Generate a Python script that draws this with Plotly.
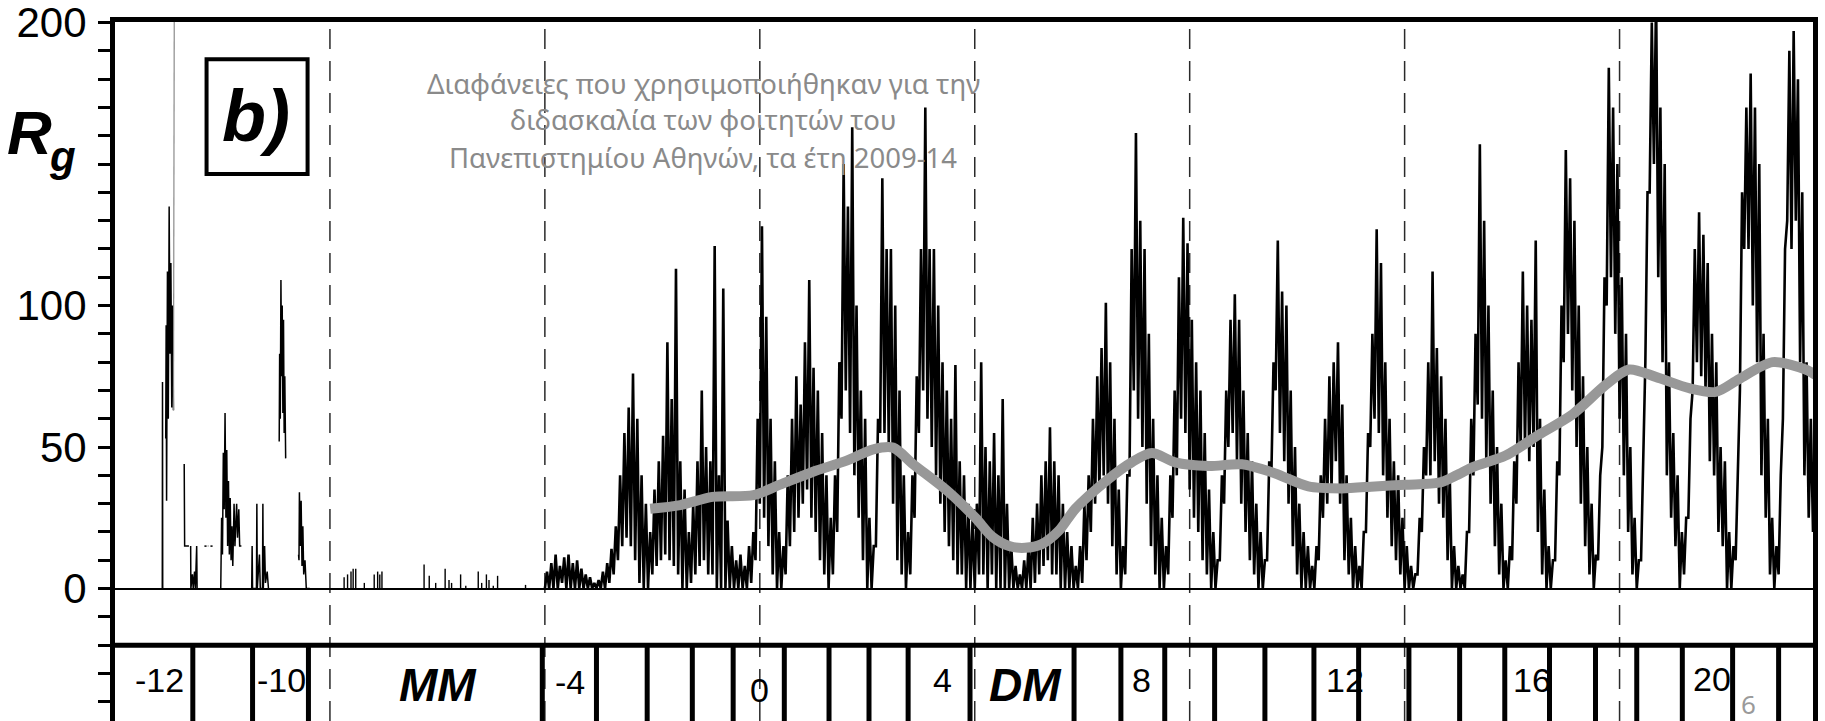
import plotly.graph_objects as go

# ---------------------------------------------------------------------------
# Group sunspot number R_g
# ---------------------------------------------------------------------------

# Sparse early record (1610-1650); None separates disconnected stretches
early_yr = [1611.0, 1611.05, 1611.1, None,
            1611.8, 1611.9, 1612.0, 1612.2, 1612.4, 1612.6, 1612.8, 1613.0, 1613.2, 1613.4, 1613.6, None,
            1616.1, 1616.2, 1617.2, None,
            1617.6, 1617.65, 1618.0, 1618.2, 1618.5, 1618.7, 1619.0, 1619.1, None,
            1620.8, 1621.3, None, 1621.6, 1621.7, None, 1622.2, 1622.7, None,
            1624.6, 1624.8, 1625.0, 1625.2, 1625.4, 1625.6, 1625.8, 1626.0, 1626.2, 1626.4, 1626.6,
            1626.8, 1627.0, 1627.2, 1627.4, 1627.7, 1627.9, 1628.3, 1628.5, 1628.8, 1629.0, 1629.4, None,
            1631.8, 1631.9, 1632.0, 1632.9, 1633.0, 1633.1, 1633.6, 1633.8, 1634.3, 1634.4, 1634.5,
            1634.8, 1635.0, 1635.4, 1635.7, None,
            1638.2, 1638.3, 1638.45, 1638.6, 1638.75, 1638.9, 1639.05, 1639.2, 1639.35, 1639.5, 1639.7, None,
            1642.7, 1642.8, 1642.9, 1643.1, 1643.3, 1643.5, 1643.7, 1643.9, 1644.2, 1644.5, 1645.3]
early_rg = [0, 73, 0, None,
            53, 93, 31, 112, 60, 135, 83, 115, 64, 100, 63, None,
            44, 15, 15, None,
            15, 0, 5, 0, 6, 0, 15, 0, None,
            15, 15, None, 15, 15, None, 15, 15, None,
            0, 25, 12, 48, 28, 62, 25, 49, 15, 38, 12,
            32, 10, 22, 8, 30, 15, 30, 18, 28, 15, 15, None,
            0, 15, 0, 0, 30, 0, 12, 0, 0, 30, 0,
            15, 2, 6, 0, None,
            52, 83, 60, 109, 75, 100, 62, 95, 55, 75, 46, None,
            12, 10, 34, 15, 31, 8, 22, 5, 10, 0, 0]

# Isolated off-scale value near 1614
spike_yr = [1613.6, 1613.8]
spike_rg = [63, 215]

# Maunder Minimum: isolated small values
mm_yr = [1653.3, 1654.1, 1654.9, 1655.4, 1656.0, 1658.0, 1660.3, 1661.1, 1661.6, 1662.1,
         1671.9, 1673.1, 1674.6, 1676.8, 1677.7, 1678.3, 1680.4, 1681.6, 1684.5, 1685.3,
         1686.4, 1687.0, 1688.0, 1689.0, 1695.5]
mm_rg = [4, 5, 6, 7, 7, 2, 5, 6, 5, 6,
         8.5, 4.5, 2, 7, 3, 2, 5, 1, 6, 2,
         5, 3, 1, 4.5, 1.3]

# Continuous record from 1700: yearly highest and lowest monthly values
RG_START = 1700
rg_hi = [6, 9, 12, 8, 11, 12, 9, 10, 7, 5, 4, 2, 3, 6,                       # 1700-1713
         9, 14, 22, 40, 55, 64, 76, 60, 40, 30,                              # 1714-1723
         20, 35, 45, 54, 87, 67, 113, 45, 35, 20, 30, 45, 70, 50, 45, 121,   # 1724-1739
         40, 106, 24, 15, 10, 12, 8, 15, 20,                                 # 1740-1748
         60, 128, 96, 60, 45, 20, 15, 40, 60, 75, 65, 87, 109, 78, 70, 55, 40, 25,   # 1749-1766
         40, 80, 150, 135, 163, 100, 70, 60, 25, 15, 60, 145, 120, 120, 100, 70, 40, 20,  # 1767-1784
         40, 75, 120, 170, 120, 120, 100, 80, 70, 60, 79, 45, 40, 30, 25,   # 1785-1799
         30, 80, 50, 45, 55, 40, 67, 30, 15, 8, 5, 10, 15, 25,              # 1800-1813
         30, 40, 45, 57, 45, 40, 30, 20, 15, 8,                              # 1814-1823
         15, 30, 40, 60, 75, 85, 101, 80, 60, 35, 15,                        # 1824-1834
         40, 120, 161, 130, 120, 90, 60, 40, 25, 15,                         # 1835-1844
         40, 70, 110, 131, 122, 95, 80, 70, 55, 35, 20, 10,                  # 1845-1856
         40, 70, 95, 104, 95, 70, 55, 45, 30, 20, 10,                        # 1857-1867
         45, 80, 123, 105, 100, 70, 50, 30, 20, 15, 8, 15,                   # 1868-1879
         40, 60, 75, 80, 87, 65, 40, 25, 15, 8, 20,                          # 1880-1890
         55, 90, 127, 115, 80, 60, 45, 40, 25, 15, 8, 5,                     # 1891-1902
         25, 50, 80, 112, 85, 75, 60, 40, 15, 8, 5,                          # 1903-1913
         20, 60, 90, 157, 130, 100, 70, 50, 30, 10, 15,                      # 1914-1924
         45, 80, 112, 100, 95, 123, 60, 35, 15, 10,                          # 1925-1934
         45, 100, 155, 145, 130, 100, 75, 50, 30, 12,                        # 1935-1944
         40, 110, 184, 170, 150, 110, 90, 50, 25, 10,                        # 1945-1954
         50, 140, 200, 210, 170, 150, 80, 55, 40, 20, 25,                    # 1955-1965
         60, 120, 133, 125, 115, 90, 80, 50, 45, 20, 15,                     # 1966-1976
         40, 140, 170, 182, 170, 150, 90, 60, 25, 15,                        # 1977-1986
         40, 120, 190, 197, 180, 140, 80, 60, 57]                            # 1987-1995
rg_lo = [0, 0, 0, 0, 2, 0, 0, 0, 0, 0, 0, 0, 0, 0,
         0, 2, 5, 10, 15, 18, 15, 10, 2, 0,
         0, 5, 8, 10, 12, 10, 8, 5, 0, 0, 2, 5, 8, 10, 5, 5,
         0, 0, 0, 0, 0, 0, 0, 0, 2,
         10, 30, 25, 15, 5, 0, 0, 5, 15, 20, 25, 30, 35, 25, 20, 10, 5, 0,
         5, 20, 60, 70, 55, 40, 25, 10, 0, 0, 15, 55, 55, 50, 30, 10, 5, 0,
         5, 25, 55, 70, 60, 50, 40, 30, 20, 15, 10, 5, 5, 0, 0,
         0, 5, 5, 0, 5, 0, 0, 0, 0, 0, 0, 0, 0, 0,
         2, 5, 8, 10, 5, 5, 0, 0, 0, 0,
         0, 2, 10, 20, 30, 35, 40, 30, 15, 5, 0,
         5, 40, 70, 60, 50, 30, 15, 5, 0, 0,
         5, 25, 40, 60, 55, 35, 25, 20, 10, 5, 0, 0,
         10, 30, 50, 55, 45, 30, 20, 10, 5, 0, 0,
         10, 40, 70, 55, 45, 30, 15, 5, 0, 0, 0, 0,
         10, 25, 30, 35, 45, 30, 10, 5, 0, 0, 0,
         20, 50, 60, 55, 40, 25, 15, 10, 5, 0, 0, 0,
         5, 20, 40, 40, 45, 30, 25, 10, 0, 0, 0,
         0, 20, 40, 65, 60, 45, 30, 15, 5, 0, 0,
         10, 30, 50, 50, 45, 50, 20, 5, 0, 0,
         10, 40, 80, 90, 70, 50, 30, 15, 5, 0,
         10, 50, 100, 110, 90, 60, 40, 20, 5, 0,
         10, 80, 140, 150, 110, 80, 40, 25, 15, 0, 5,
         25, 70, 80, 75, 70, 45, 40, 20, 15, 0, 0,
         10, 70, 120, 120, 100, 80, 40, 25, 5, 0,
         5, 60, 130, 120, 130, 80, 40, 25, 20]

# Smoothed (long-term) level
smooth_yr = [1724.5, 1731.5, 1739.0, 1748.5, 1754.7, 1762.4, 1770.2, 1776.4, 1781.0, 1785.7,
             1793.4, 1800.2, 1804.0, 1808.0, 1811.7, 1815.6, 1819.5, 1823.4, 1831.1, 1836.5,
             1841.2, 1846.6, 1854.4, 1862.1, 1869.9, 1877.6, 1885.4, 1893.1, 1900.1, 1908.0,
             1912.0, 1916.0, 1923.5, 1931.3, 1939.1, 1946.8, 1952.2, 1958.4, 1966.2, 1972.4,
             1977.8, 1985.6, 1993.3, 1995.6]
smooth_rg = [28.2, 29.5, 32.4, 33.0, 36.7, 41.3, 45.2, 49.2, 49.8, 43.9,
             34.8, 24.9, 18.4, 15.0, 14.4, 15.7, 20.3, 28.2, 38.7, 44.6,
             47.9, 44.6, 43.3, 43.9, 40.7, 36.1, 35.4, 36.1, 36.7, 37.4,
             40.0, 43.0, 47.0, 54.4, 61.6, 72.0, 77.4, 74.8, 70.8, 69.5,
             74.0, 80.0, 77.4, 75.4]

# Cycle boundaries (minima) and the labels of the cycle strip
cycle_edges = [1618.1, 1632.0, 1645.0, 1699.4, 1712.0, 1723.8, 1734.3, 1743.8, 1755.7,
               1766.1, 1775.4, 1784.5, 1798.9, 1823.1, 1834.0, 1844.2, 1855.8, 1867.5,
               1878.9, 1889.3, 1901.0, 1912.8, 1923.3, 1933.7, 1944.4, 1954.0, 1964.6,
               1976.3, 1987.0]
cycle_label_yr = [1610.4, 1638.7, 1705.9, 1749.9, 1792.4, 1838.9, 1886.1, 1929.6, 1971.4]
cycle_label_txt = ["-12", "-10", "-4", "0", "4", "8", "12", "16", "20"]
cycle_label_rg = [-32.4, -32.4, -33.0, -35.9, -32.4, -32.4, -32.4, -32.4, -32.0]
minima_names = ["MM", "DM"]
minima_yr = [1675.2, 1811.7]

half_century = [1650, 1700, 1750, 1800, 1850, 1900, 1950]

y_ticks = list(range(-40, 201, 10))
y_labels = {0: "0", 50: "50", 100: "100", 200: "200"}

X_RANGE = [1600, 1995]
Y_RANGE = [-46.8, 200.2]
STRIP_TOP = -20

SANS = "Liberation Sans Narrow, Arial Narrow, Liberation Sans, Arial, sans-serif"
NOTE = "Noto Sans, Open Sans, sans-serif"

# ---------------------------------------------------------------------------
fig = go.Figure()

# Continuous record: each year drawn from its lowest to its highest value
dense_x, dense_y = [], []
for i, (lo, hi) in enumerate(zip(rg_lo, rg_hi)):
    yr = RG_START + i
    dense_x += [yr, yr + 0.5]
    dense_y += [lo, hi]

fig.add_trace(go.Scatter(x=early_yr, y=early_rg, mode="lines", connectgaps=False,
                         line=dict(color="#000000", width=1.5), hoverinfo="skip"))
fig.add_trace(go.Scatter(x=spike_yr, y=spike_rg, mode="lines",
                         line=dict(color="#8a8a8a", width=1.2), hoverinfo="skip"))
mm_x, mm_y = [], []
for t, v in zip(mm_yr, mm_rg):
    mm_x += [t, t, None]
    mm_y += [0, v, None]
fig.add_trace(go.Scatter(x=mm_x, y=mm_y, mode="lines", connectgaps=False,
                         line=dict(color="#000000", width=1.4), hoverinfo="skip"))
fig.add_trace(go.Scatter(x=dense_x, y=dense_y, mode="lines",
                         line=dict(color="#000000", width=2.6), hoverinfo="skip"))
fig.add_trace(go.Scatter(x=smooth_yr, y=smooth_rg, mode="lines",
                         line=dict(color="#989898", width=10, shape="spline", smoothing=0.8),
                         hoverinfo="skip"))

shapes = []
# dashed half-century markers
for yr in half_century:
    shapes.append(dict(type="line", xref="x", yref="y", x0=yr, x1=yr, y0=Y_RANGE[0], y1=Y_RANGE[1],
                       line=dict(color="#2a2a2a", width=1.5, dash="20px,12px"), layer="below"))
# frame line separating the cycle strip
shapes.append(dict(type="line", xref="paper", yref="y", x0=0, x1=1, y0=STRIP_TOP, y1=STRIP_TOP,
                   line=dict(color="#000000", width=5)))
# cycle boundaries in the strip
for yr in cycle_edges:
    shapes.append(dict(type="line", xref="x", yref="y", x0=yr, x1=yr, y0=STRIP_TOP, y1=Y_RANGE[0],
                       line=dict(color="#000000", width=5)))
# panel tag box
shapes.append(dict(type="rect", xref="x", yref="y", x0=1621.3, x1=1644.8, y0=146.5, y1=187,
                   line=dict(color="#000000", width=4), fillcolor="rgba(0,0,0,0)"))

annotations = []
annotations.append(dict(text="<b><i>b)</i></b>", x=1632.8, y=167.0, xref="x", yref="y",
                        xanchor="center", yanchor="middle", showarrow=False,
                        font=dict(family=SANS, size=72, color="#000000")))
annotations.append(dict(text="<b><i>R</i></b>", x=-0.0506, y=0.8426, xref="paper", yref="paper",
                        xanchor="center", yanchor="middle", showarrow=False,
                        font=dict(family=SANS, size=62, color="#000000")))
annotations.append(dict(text="<b><i>g</i></b>", x=-0.0312, y=0.808, xref="paper", yref="paper",
                        xanchor="center", yanchor="middle", showarrow=False,
                        font=dict(family=SANS, size=42, color="#000000")))
for t, txt, v in zip(cycle_label_yr, cycle_label_txt, cycle_label_rg):
    annotations.append(dict(text=txt, x=t, y=v, xref="x", yref="y", showarrow=False,
                            xanchor="center", yanchor="middle",
                            font=dict(family=SANS, size=34, color="#000000")))
for t, txt in zip(minima_yr, minima_names):
    annotations.append(dict(text="<b><i>" + txt + "</i></b>", x=t, y=-34.0, xref="x", yref="y",
                            xanchor="center", yanchor="middle", showarrow=False,
                            font=dict(family=SANS, size=46, color="#000000")))
note_lines = ["Διαφάνειες που χρησιμοποιήθηκαν για την",
              "διδασκαλία των φοιτητών του",
              "Πανεπιστημίου Αθηνών, τα έτη 2009-14"]
note_rg = [178.3, 165.8, 152.3]
for txt, v in zip(note_lines, note_rg):
    annotations.append(dict(text=txt, x=1736.8, y=v, xref="x", yref="y", showarrow=False,
                            xanchor="center", yanchor="middle",
                            font=dict(family=NOTE, size=27.5, color="#8a8a8a")))
annotations.append(dict(text="6", x=1980.0, y=-40.8, xref="x", yref="y", showarrow=False,
                        xanchor="center", yanchor="middle",
                        font=dict(family=NOTE, size=26, color="#9a9a9a")))

fig.update_layout(
    width=1825, height=721,
    margin=dict(l=115, r=12, t=22, b=0, pad=0),
    paper_bgcolor="#ffffff", plot_bgcolor="#ffffff",
    showlegend=False,
    shapes=shapes, annotations=annotations,
    xaxis=dict(range=X_RANGE, showgrid=False, zeroline=False, showticklabels=False, ticks="",
               showline=True, mirror=True, linecolor="#000000", linewidth=5, fixedrange=True),
    yaxis=dict(range=Y_RANGE, showgrid=False, zeroline=True, zerolinecolor="#000000",
               zerolinewidth=1.5, showline=True, mirror=True, linecolor="#000000", linewidth=5,
               ticks="outside", ticklen=12, tickwidth=3, tickcolor="#000000",
               tickvals=y_ticks, ticktext=[y_labels.get(v, "") for v in y_ticks],
               tickfont=dict(family=SANS, size=42, color="#000000"),
               ticklabelstandoff=3, ticklabeloverflow="allow", fixedrange=True),
)

fig.write_html("out.html")
